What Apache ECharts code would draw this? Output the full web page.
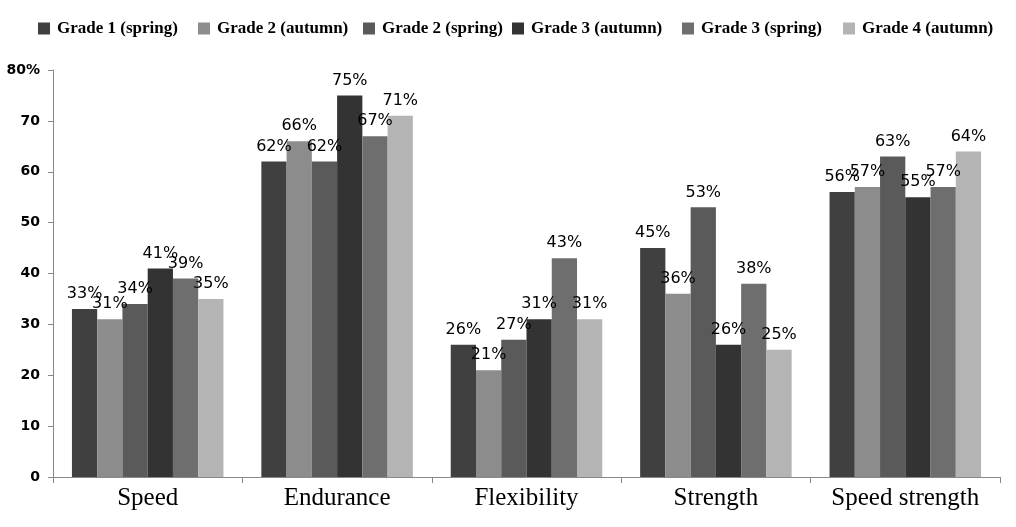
<!DOCTYPE html>
<html><head><meta charset="utf-8">
<script src="https://cdn.jsdelivr.net/npm/echarts@6/dist/echarts.min.js"></script>
<style>html,body{margin:0;padding:0;background:#fff}#c{width:1016px;height:527px}</style>
</head><body><div id="c"></div>
<script>
const categories = ['Speed','Endurance','Flexibility','Strength','Speed strength'];
const seriesNames = ['Grade 1 (spring)','Grade 2 (autumn)','Grade 2 (spring)','Grade 3 (autumn)','Grade 3 (spring)','Grade 4 (autumn)'];
const grade1Spring = [33,62,26,45,56];
const grade2Autumn = [31,66,21,36,57];
const grade2Spring = [34,62,27,53,63];
const grade3Autumn = [41,75,31,26,55];
const grade3Spring = [39,67,43,38,57];
const grade4Autumn = [35,71,31,25,64];
const yTicks = [0,10,20,30,40,50,60,70,80];
const values = [grade1Spring,grade2Autumn,grade2Spring,grade3Autumn,grade3Spring,grade4Autumn];
const colors = ['#404040','#8c8c8c','#5a5a5a','#333333','#6e6e6e','#b4b4b4'];
const legendLefts = [38,198,363,512,682,843];

const chart = echarts.init(document.getElementById('c'));
chart.setOption({
  animation:false,
  color:colors,
  legend: seriesNames.map((n,i)=>({
    top:20, left:legendLefts[i], itemWidth:12, itemHeight:12, itemGap:0, icon:'rect', padding:0,
    textStyle:{fontFamily:'Liberation Serif', fontWeight:'bold', fontSize:17, color:'#000', padding:[0,0,0,2]},
    data:[n]
  })),
  grid:{left:53, right:16, top:70, bottom:50},
  xAxis:{
    type:'category', data:categories,
    axisLine:{lineStyle:{color:'#888'}},
    axisTick:{show:true, interval:0, alignWithLabel:false, length:6, lineStyle:{color:'#888'}},
    axisLabel:{interval:0, fontFamily:'Liberation Serif', fontSize:25, color:'#000', margin:9}
  },
  yAxis:{
    type:'value', min:yTicks[0], max:yTicks[yTicks.length-1], interval:10,
    splitLine:{show:false},
    axisLine:{show:true, lineStyle:{color:'#888'}},
    axisTick:{show:true, length:5, lineStyle:{color:'#888'}},
    axisLabel:{fontFamily:'DejaVu Sans', fontWeight:'bold', fontSize:14, color:'#000', margin:13,
      formatter:v=> v===80 ? '80%' : String(v)}
  },
  series: values.map((d,i)=>({
    name:seriesNames[i], type:'bar', data:d, barGap:'0%', barCategoryGap:'20%',
    itemStyle:{color:colors[i]},
    label:{show:true, position:'top', formatter:'{c}%', fontFamily:'DejaVu Sans', fontSize:16, color:'#000', distance:7}
  }))
});
</script></body></html>
